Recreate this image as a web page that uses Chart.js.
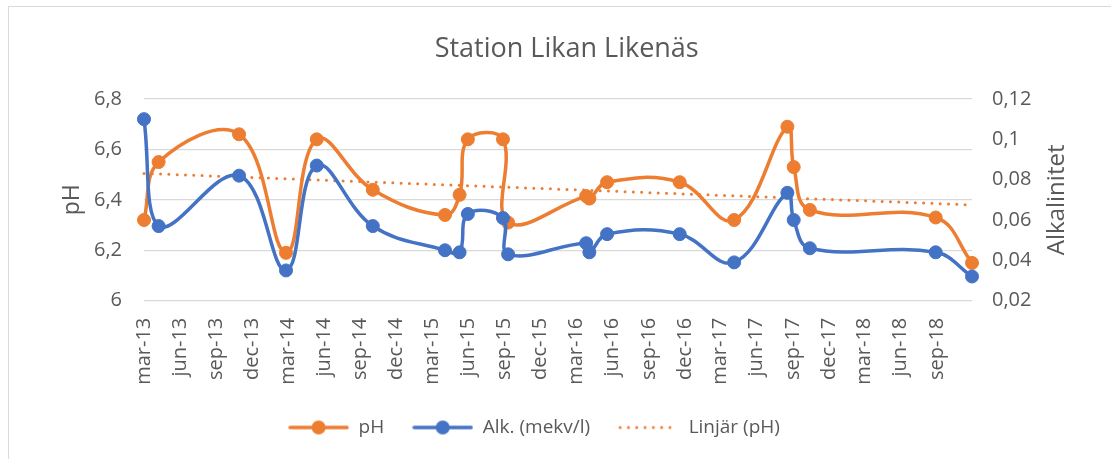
<!DOCTYPE html>
<html>
<head>
<meta charset="utf-8">
<script src="https://cdn.jsdelivr.net/npm/chart.js@4.4.1/dist/chart.umd.min.js"></script>
<style>
  html, body { margin: 0; padding: 0; background: #fff; overflow: hidden; }
  #frame { position: absolute; left: 8px; top: 6px; width: 1200px; height: 600px; border: 1px solid #d9d9d9; }
  #wrap { position: absolute; left: 0; top: 0; width: 1111px; height: 459px; }
</style>
</head>
<body>
<div id="frame"></div>
<div id="wrap"><canvas id="chart" width="1111" height="459"></canvas></div>
<script>
const sampleDates = [
  "2013-03-05", "2013-04-11", "2013-11-01", "2014-02-28", "2014-05-17",
  "2014-10-06", "2015-04-07", "2015-05-14", "2015-06-04", "2015-09-01",
  "2015-09-14", "2016-03-30", "2016-04-07", "2016-05-22", "2016-11-22",
  "2017-04-09", "2017-08-22", "2017-09-07", "2017-10-18", "2018-09-02",
  "2018-12-03"
];
const phValues = [
  6.32, 6.55, 6.66, 6.19, 6.64, 6.44, 6.34, 6.42, 6.64, 6.64,
  6.31, 6.415, 6.405, 6.47, 6.47, 6.32, 6.69, 6.53, 6.36, 6.33, 6.15
];
const alkValues = [
  0.110, 0.057, 0.082, 0.035, 0.087, 0.057, 0.045, 0.044, 0.063, 0.061,
  0.043, 0.0485, 0.044, 0.053, 0.053, 0.039, 0.0735, 0.060, 0.046, 0.044, 0.032
];
// Linear trend of pH, value at first and last date
const phTrendEnds = [6.505, 6.38];

const tickLabels = [
  "mar-13", "jun-13", "sep-13", "dec-13", "mar-14", "jun-14", "sep-14", "dec-14",
  "mar-15", "jun-15", "sep-15", "dec-15", "mar-16", "jun-16", "sep-16", "dec-16",
  "mar-17", "jun-17", "sep-17", "dec-17", "mar-18", "jun-18", "sep-18"
];

const ORANGE = "#ED7D31";
const BLUE = "#4472C4";
const TEXT = "#595959";
const FONT = "'Open Sans', 'Noto Sans', sans-serif";

const monthIndex = { jan: 0, feb: 1, mar: 2, apr: 3, maj: 4, jun: 5, jul: 6, aug: 7, sep: 8, okt: 9, nov: 10, dec: 11 };
const dayNum = (s) => Date.parse(s) / 86400000;
const tickDays = tickLabels.map((l) => {
  const [m, y] = l.split("-");
  return Date.UTC(2000 + Number(y), monthIndex[m], 5) / 86400000;
});

const firstDay = dayNum(sampleDates[0]);
const lastDay = dayNum(sampleDates[sampleDates.length - 1]);

const phPoints = sampleDates.map((d, i) => ({ x: dayNum(d), y: phValues[i] }));
const alkPoints = sampleDates.map((d, i) => ({ x: dayNum(d), y: alkValues[i] }));
const trendPoints = [
  { x: firstDay, y: phTrendEnds[0] },
  { x: lastDay, y: phTrendEnds[1] },
];

const fmt = (digits) => (v) => String(Number(v.toFixed(digits))).replace(".", ",");

// Small legend icons: line with marker, or dotted line
function legendIcon(color, dotted) {
  const c = document.createElement("canvas");
  c.width = 61;
  c.height = 16;
  const g = c.getContext("2d");
  g.strokeStyle = color;
  g.fillStyle = color;
  g.lineCap = "round";
  if (dotted) {
    g.lineWidth = 3;
    g.setLineDash([0, 8.3]);
    g.beginPath();
    g.moveTo(2, 8);
    g.lineTo(60, 8);
    g.stroke();
  } else {
    g.lineWidth = 3.5;
    g.beginPath();
    g.moveTo(2, 8);
    g.lineTo(59, 8);
    g.stroke();
    g.beginPath();
    g.arc(30.5, 8, 7, 0, Math.PI * 2);
    g.fill();
  }
  return c;
}

const legendEntries = [
  { text: "pH", color: ORANGE, dotted: false, datasetIndex: 1 },
  { text: "Alk. (mekv/l)", color: BLUE, dotted: false, datasetIndex: 0 },
  { text: "Linjär (pH)", color: ORANGE, dotted: true, datasetIndex: 2 },
];

// Title and right axis title drawn by hand (right title reads bottom-to-top)
const extraText = {
  id: "extraText",
  afterDraw(chart) {
    const ctx = chart.ctx;
    ctx.save();
    ctx.fillStyle = TEXT;
    ctx.font = "27px " + FONT;
    ctx.textAlign = "center";
    ctx.textBaseline = "alphabetic";
    ctx.fillText("Station Likan Likenäs", 566.7, 56.5);

    const area = chart.chartArea;
    ctx.font = "24px " + FONT;
    ctx.translate(1064, (area.top + area.bottom) / 2);
    ctx.rotate(-Math.PI / 2);
    ctx.fillText("Alkalinitet", 0, 0);
    ctx.restore();
  },
};

new Chart(document.getElementById("chart"), {
  type: "line",
  data: {
    datasets: [
      {
        label: "Alk. (mekv/l)",
        data: alkPoints,
        yAxisID: "y1",
        borderColor: BLUE,
        backgroundColor: BLUE,
        borderWidth: 3.5,
        pointRadius: 6.5,
        pointBorderWidth: 1,
        pointHoverRadius: 6.5,
        tension: 0.4,
        clip: false,
        order: 0,
      },
      {
        label: "pH",
        data: phPoints,
        yAxisID: "y",
        borderColor: ORANGE,
        backgroundColor: ORANGE,
        borderWidth: 3.5,
        pointRadius: 6.5,
        pointBorderWidth: 1,
        pointHoverRadius: 6.5,
        tension: 0.4,
        clip: false,
        order: 1,
      },
      {
        label: "Linjär (pH)",
        data: trendPoints,
        yAxisID: "y",
        borderColor: ORANGE,
        borderWidth: 3,
        borderDash: [0, 8.3],
        borderCapStyle: "round",
        pointRadius: 0,
        tension: 0,
        clip: false,
        order: 2,
      },
    ],
  },
  options: {
    responsive: false,
    animation: false,
    layout: { padding: { top: 99, right: 43, bottom: 12, left: 0 } },
    plugins: {
      title: { display: false },
      tooltip: { enabled: false },
      legend: {
        position: "bottom",
        labels: {
          usePointStyle: true,
          pointStyleWidth: 61,
          padding: 28,
          color: TEXT,
          font: { family: FONT, size: 19 },
          generateLabels: () =>
            legendEntries.map((e) => ({
              text: e.text,
              pointStyle: legendIcon(e.color, e.dotted),
              fillStyle: e.color,
              strokeStyle: e.color,
              fontColor: TEXT,
              lineWidth: 0,
              hidden: false,
              datasetIndex: e.datasetIndex,
            })),
        },
      },
    },
    scales: {
      x: {
        type: "linear",
        min: firstDay,
        max: lastDay,
        afterBuildTicks: (scale) => {
          scale.ticks = tickDays.map((v) => ({ value: v }));
        },
        afterFit: (scale) => {
          scale.height = 89.3;
        },
        grid: { display: false, drawTicks: false },
        border: { display: false },
        ticks: {
          autoSkip: false,
          minRotation: 90,
          maxRotation: 90,
          padding: 17,
          color: TEXT,
          font: { family: FONT, size: 20 },
          callback: (v, i) => tickLabels[i],
        },
      },
      y: {
        position: "left",
        min: 6,
        max: 6.8,
        afterFit: (scale) => {
          scale.width = 144;
        },
        grid: { color: "#D9D9D9", lineWidth: 1.3, drawTicks: false },
        border: { display: false },
        ticks: {
          stepSize: 0.2,
          padding: 22,
          color: TEXT,
          font: { family: FONT, size: 20 },
          callback: fmt(1),
        },
        title: {
          display: true,
          text: "pH",
          color: TEXT,
          font: { family: FONT, size: 23 },
          padding: { top: 59, bottom: 0 },
        },
      },
      y1: {
        position: "right",
        min: 0.02,
        max: 0.12,
        afterFit: (scale) => {
          scale.width = 96;
        },
        grid: { drawOnChartArea: false, drawTicks: false },
        border: { display: false },
        ticks: {
          stepSize: 0.02,
          padding: 20,
          color: TEXT,
          font: { family: FONT, size: 20 },
          callback: fmt(2),
        },
      },
    },
  },
  plugins: [extraText],
});
</script>
</body>
</html>
